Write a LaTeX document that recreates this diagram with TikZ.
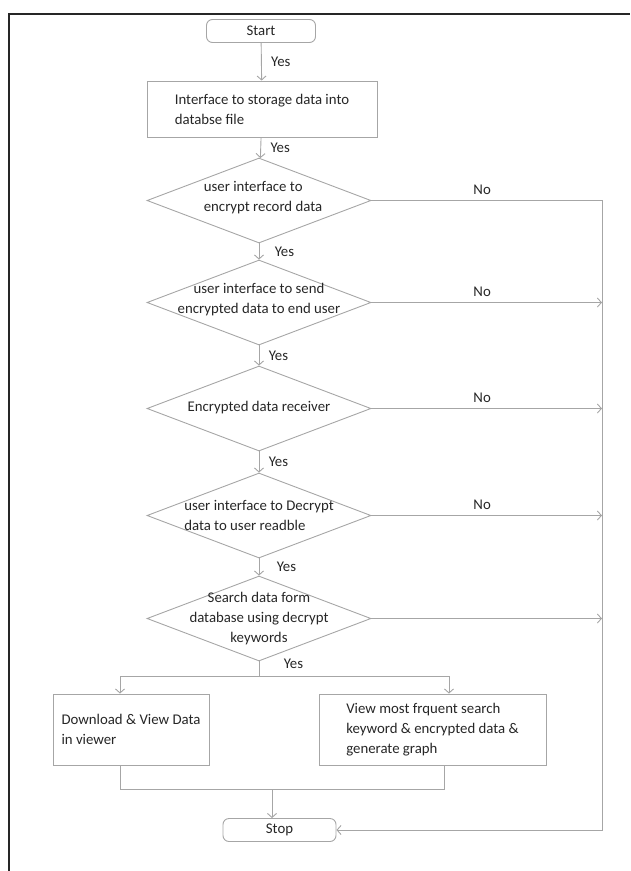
\documentclass[tikz,border=0pt]{standalone}
\usepackage{fontspec}
\setmainfont{Carlito}
\usetikzlibrary{shapes.geometric}
\usetikzlibrary{arrows.meta}

\begin{document}
\begin{tikzpicture}[x=1pt, y=-1pt,
    font=\fontsize{14.8}{20}\selectfont, text=black!85,
    T/.style={draw=black!35, line width=0.9pt, rectangle, rounded corners=6pt, minimum width=109pt, minimum height=23pt, inner sep=0pt},
    P/.style={draw=black!35, line width=0.9pt, rectangle, align=left, inner sep=0pt},
    Q/.style={draw=black!35, line width=0.9pt, diamond, minimum width=224pt, minimum height=85pt, inner sep=0pt},
    L/.style={draw=black!35, line width=0.9pt},
    A/.style={L, -{Straight Barb[length=4pt, width=9pt]}},
    yes/.style={anchor=west, xshift=6pt},
    no/.style={above, pos=0.48, yshift=2pt}]
    \useasboundingbox (0,0) rectangle (630,871);
    \draw[line width=2.6pt, black!85] (9,871) -- (9,14) -- (630,14);

    \node[T] (s0) at (261,31) {Start};
    \node[P, minimum width=230pt, minimum height=56pt] (p0) at (262,109) {Interface to storage data into\\databse file};
    \node[Q, label={[align=left, xshift=4pt, yshift=3pt]center:user interface to\\encrypt record data}] (q0) at (259,200.5) {};
    \node[Q, label={[align=center, yshift=3pt]center:user interface to send\\encrypted data to end user}] (q1) at (259,302.5) {};
    \node[Q, label={[yshift=1pt]center:Encrypted data receiver}] (q2) at (259,408.5) {};
    \node[Q, label={[align=left]center:user interface to Decrypt\\data to user readble}] (q3) at (259,515.5) {};
    \node[Q, label={[align=center]center:Search data form\\database using decrypt\\keywords}] (q4) at (259,618.5) {};
    \node[P, minimum width=156pt, minimum height=71pt] (d0) at (131,729.5) {Download \& View Data\\in viewer};
    \node[P, minimum width=227pt, minimum height=71pt] (v0) at (432.5,729.5) {View most frquent search\\keyword \& encrypted data \&\\generate graph};
    \node[T, minimum width=113pt] (s1) at (279.5,830) {Stop};

    \coordinate (rail) at (602,0);
    \coordinate (f0) at (259,676);
    \coordinate (f1) at (120,676);
    \coordinate (f2) at (449,676);
    \coordinate (m0) at (272,789);
    \coordinate (m1) at (120,789);
    \coordinate (m2) at (444,789);

    \draw[A] (s0) -- node[yes]{Yes} (p0);
    \draw[A] (p0) -- node[yes]{Yes} (q0);
    \draw[A] (q0) -- node[yes, xshift=6pt]{Yes} (q1);
    \draw[A] (q1) -- node[yes]{Yes} (q2);
    \draw[A] (q2) -- node[yes]{Yes} (q3);
    \draw[A] (q3) -- node[yes, xshift=8pt]{Yes} (q4);

    \draw[A] (q0) -- node[no]{No} (q0.east -| rail) |- (s1);
    \draw[A] (q1) -- node[no]{No} (q1.east -| rail);
    \draw[A] (q2) -- node[no]{No} (q2.east -| rail);
    \draw[A] (q3) -- node[no]{No} (q3.east -| rail);
    \draw[A] (q4) -- (q4.east -| rail);

    \draw[L] (q4) -- node[yes, pos=0.15, xshift=15pt]{Yes} (f0);
    \draw[L] (f1) -- (f2);
    \draw[A] (f1) -- (f1 |- d0.north);
    \draw[A] (f2) -- (f2 |- v0.north);
    \draw[L] (m1 |- d0.south) -- (m1) -- (m2) -- (m2 |- v0.south);
    \draw[A] (m0) -- (m0 |- s1.north);
\end{tikzpicture}
\end{document}
